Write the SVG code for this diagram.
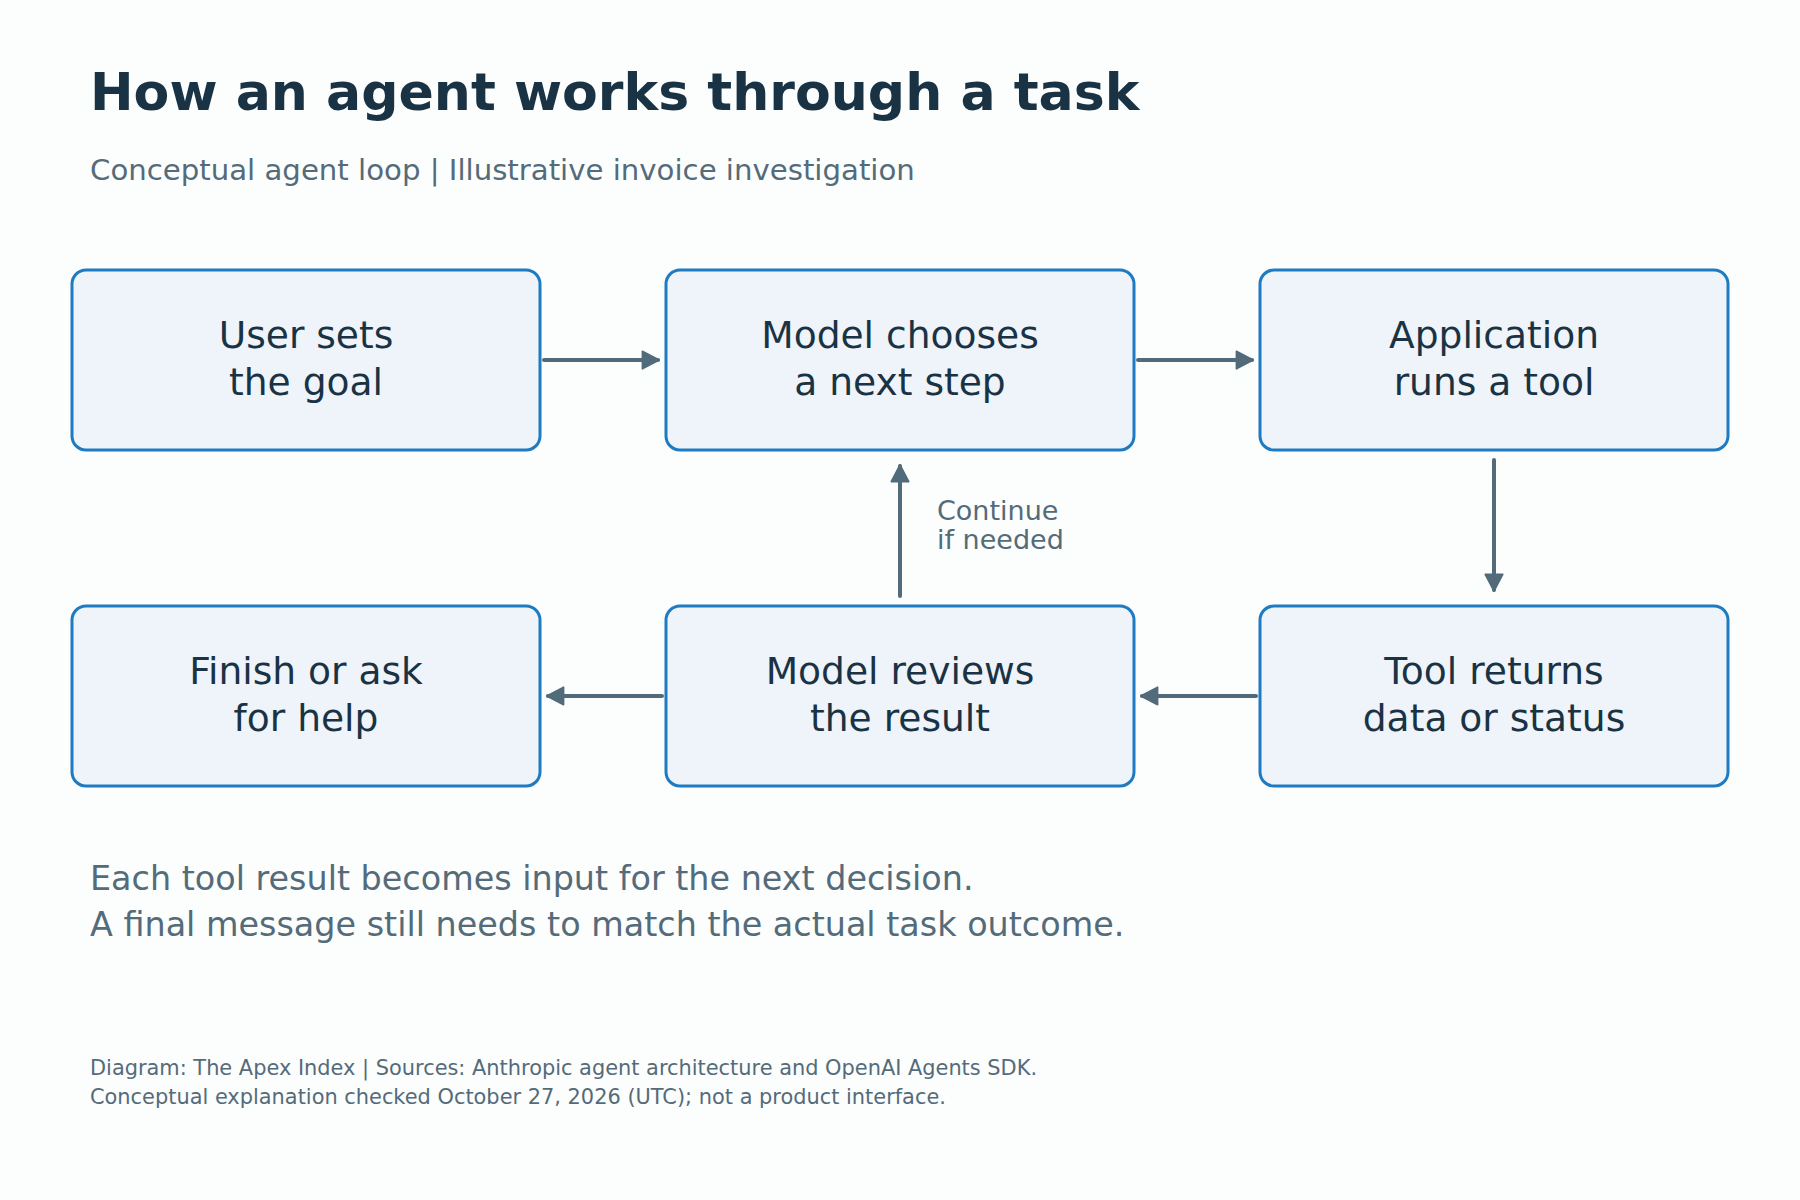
<svg xmlns="http://www.w3.org/2000/svg" width="1800" height="1200" viewBox="0 0 1800 1200">
<defs>
<marker id="ah" markerWidth="5" markerHeight="5" refX="4.2" refY="2.5" orient="auto" markerUnits="strokeWidth">
<path d="M0.3,0.3 L4.5,2.5 L0.3,4.7 Z" fill="#526b7a" stroke="#526b7a" stroke-width="0.4" stroke-linejoin="round"/>
</marker>
<style>
.box{fill:#eef4f9;stroke:#1f7bc1;stroke-width:3}
.lbl{font-family:"DejaVu Sans",sans-serif;font-size:37.6px;fill:#1a3344;text-anchor:middle}
.con{stroke:#526b7a;stroke-width:4;stroke-linecap:round;fill:none;marker-end:url(#ah)}
.muted{font-family:"DejaVu Sans",sans-serif;fill:#546b7a}
</style>
</defs>
<rect width="1800" height="1200" fill="#fcfdfd"/>
<text x="90" y="110" font-family="DejaVu Sans,sans-serif" font-weight="bold" font-size="52.1" fill="#1a3344">How an agent works through a task</text>
<text x="90" y="180" class="muted" font-size="29.2">Conceptual agent loop | Illustrative invoice investigation</text>

<g id="connectors">
<line class="con" x1="544" y1="360" x2="658" y2="360"/>
<line class="con" x1="1138" y1="360" x2="1252" y2="360"/>
<line class="con" x1="1494" y1="460" x2="1494" y2="590"/>
<line class="con" x1="1256" y1="696" x2="1142" y2="696"/>
<line class="con" x1="662" y1="696" x2="548" y2="696"/>
<line class="con" x1="900" y1="596" x2="900" y2="466"/>
<text x="937" y="520" class="muted" font-size="27">Continue</text>
<text x="937" y="549" class="muted" font-size="27">if needed</text>
</g>

<g id="n1"><rect class="box" x="72" y="270" width="468" height="180" rx="14"/>
<text class="lbl" x="306" y="348">User sets</text><text class="lbl" x="306" y="395">the goal</text></g>
<g id="n2"><rect class="box" x="666" y="270" width="468" height="180" rx="14"/>
<text class="lbl" x="900" y="348">Model chooses</text><text class="lbl" x="900" y="395">a next step</text></g>
<g id="n3"><rect class="box" x="1260" y="270" width="468" height="180" rx="14"/>
<text class="lbl" x="1494" y="348">Application</text><text class="lbl" x="1494" y="395">runs a tool</text></g>
<g id="n4"><rect class="box" x="1260" y="606" width="468" height="180" rx="14"/>
<text class="lbl" x="1494" y="684">Tool returns</text><text class="lbl" x="1494" y="731">data or status</text></g>
<g id="n5"><rect class="box" x="666" y="606" width="468" height="180" rx="14"/>
<text class="lbl" x="900" y="684">Model reviews</text><text class="lbl" x="900" y="731">the result</text></g>
<g id="n6"><rect class="box" x="72" y="606" width="468" height="180" rx="14"/>
<text class="lbl" x="306" y="684">Finish or ask</text><text class="lbl" x="306" y="731">for help</text></g>

<text x="90" y="890" class="muted" font-size="33.4">Each tool result becomes input for the next decision.</text>
<text x="90" y="936" class="muted" font-size="33.4">A final message still needs to match the actual task outcome.</text>
<text x="90" y="1075" class="muted" font-size="20.9">Diagram: The Apex Index | Sources: Anthropic agent architecture and OpenAI Agents SDK.</text>
<text x="90" y="1104" class="muted" font-size="20.9">Conceptual explanation checked October 27, 2026 (UTC); not a product interface.</text>
</svg>
